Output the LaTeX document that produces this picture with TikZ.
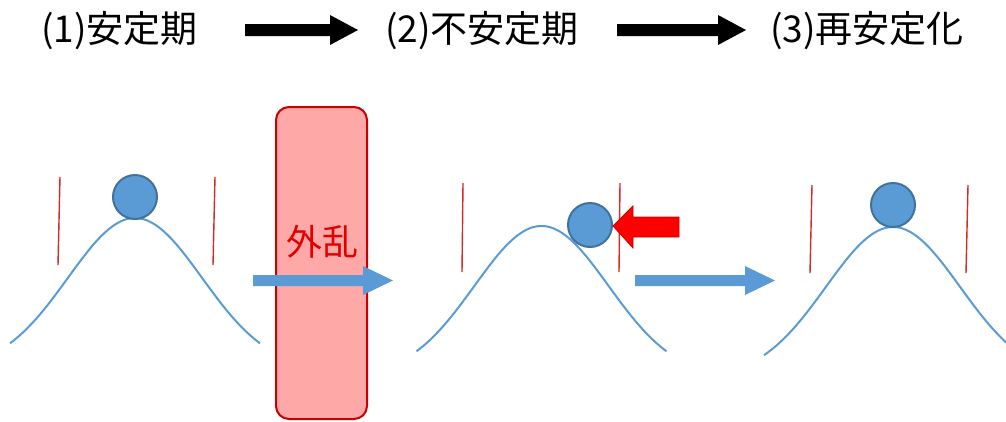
\documentclass[tikz,border=0pt]{standalone}
\usepackage{fontspec}
\setmainfont{Noto Sans CJK JP}
\begin{document}
\begin{tikzpicture}[x=1pt,y=-1pt,
  title/.style={anchor=base west,inner sep=0pt,font=\fontsize{37}{42}\selectfont},
  hill/.style={draw=hillblue,line width=2pt,smooth},
  guide/.style={draw=guidered,line width=1.4pt},
  ball/.style={circle,draw=balledge,fill=hillblue,line width=2pt,minimum size=44pt,inner sep=0pt},
  blockarrow/.style={fill=black,draw=none},
  bluearrow/.style={fill=hillblue,draw=none}]
\definecolor{hillblue}{RGB}{91,155,213}
\definecolor{balledge}{RGB}{65,113,156}
\definecolor{guidered}{RGB}{215,40,40}
\definecolor{boxfill}{RGB}{255,168,168}
\definecolor{boxedge}{RGB}{200,0,0}
\definecolor{textred}{RGB}{225,0,0}
\useasboundingbox (0,0) rectangle (1006,421);
\begin{scope}
\clip (0,0) rectangle (1006,421);
% titles
\node[title] (t1) at (41,42) {(1)安定期};
\node[title] (t2) at (385,42) {(2)不安定期};
\node[title] (t3) at (770,42) {(3)再安定化};
% black arrows
\path[blockarrow] (245,24) -- (330,24) -- (330,15) -- (358,30) -- (330,45) -- (330,36) -- (245,36) -- cycle;
\path[blockarrow] (617,24) -- (718,24) -- (718,15) -- (746,30) -- (718,45) -- (718,36) -- (617,36) -- cycle;
% disturbance box
\draw[fill=boxfill,draw=boxedge,line width=2pt,rounded corners=13pt] (276,107) rectangle (367,419);
% scene 1
\draw[hill] plot[domain=-125:125,samples=80] ({135+\x},{370-152*exp(-\x*\x/8978)});
\draw[guide] (60,177) -- (58,265);
\draw[guide] (215,177) -- (213,265);
\node[ball] (b1) at (135,197) {};
% scene 2
\draw[hill] plot[domain=-125:125,samples=80] ({541.5+\x},{378-152*exp(-\x*\x/8978)});
\draw[guide] (463,183) -- (462,272);
\draw[guide] (620,183) -- (619,272);
\node[ball] (b2) at (590,225) {};
% scene 3
\draw[hill] plot[domain=-129:115,samples=80] ({893+\x},{379-152*exp(-\x*\x/8978)});
\draw[guide] (812,185) -- (810,273);
\draw[guide] (968,185) -- (966,273);
\node[ball] (b3) at (893,205) {};
% blue arrows
\path[bluearrow] (253,275) -- (363,275) -- (363,266) -- (393,280.5) -- (363,295) -- (363,286) -- (253,286) -- cycle;
\path[bluearrow] (635,275) -- (745,275) -- (745,266) -- (775,280.5) -- (745,295) -- (745,286) -- (635,286) -- cycle;
% red push arrow
\draw[fill=red,draw=boxedge,line width=0.8pt] (613,226) -- (633,206) -- (633,217) -- (679,217) -- (679,237) -- (633,237) -- (633,248) -- cycle;
% label
\node[inner sep=0pt,text=textred,font=\fontsize{36}{40}\selectfont] (gairan) at (322,242) {外乱};
\end{scope}
\end{tikzpicture}
\end{document}
